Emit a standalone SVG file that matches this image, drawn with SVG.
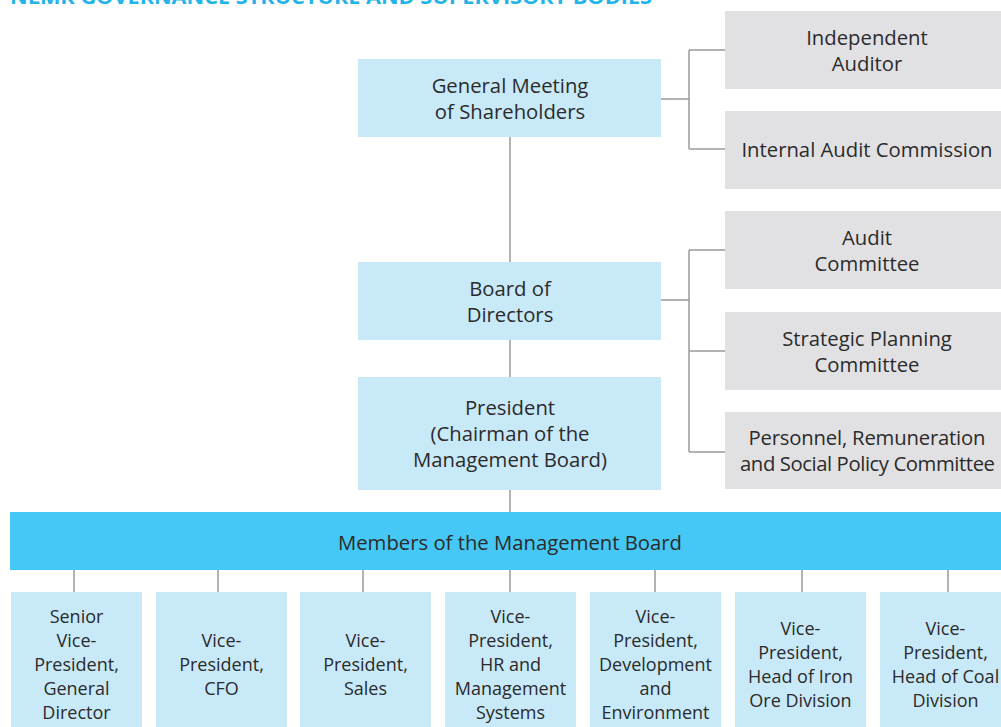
<svg xmlns="http://www.w3.org/2000/svg" width="1001" height="727" viewBox="0 0 1001 727">
<style>
.t{font-family:"Open Sans","Noto Sans","Liberation Sans",sans-serif;font-size:20.3px;fill:#2b2b2b;text-anchor:middle}
.s{font-size:18px}
.blue{fill:#c8e9f8}
.grey{fill:#e1e1e3}
.bar{fill:#45c8f5}
.ln{stroke:#9a9a9a;stroke-width:1.5;fill:none}
.title{font-family:"Open Sans","Liberation Sans",sans-serif;font-weight:bold;font-size:19px;fill:#1fb4ea}
</style>
<rect width="1001" height="727" fill="#fff"/>
<text class="title" x="10" y="3.5" textLength="642" lengthAdjust="spacingAndGlyphs">NLMK GOVERNANCE STRUCTURE AND SUPERVISORY BODIES</text>
<g id="connectors">
<path class="ln" d="M510 137V262M510 340V377M510 490V512"/>
<path class="ln" d="M661 99H689M689 50V149M689 50H725M689 149H725"/>
<path class="ln" d="M661 300H689M689 250V452M689 250H725M689 351H725M689 452H725"/>
<path class="ln" d="M74 570V592M218 570V592M363 570V592M510 570V592M655 570V592M802 570V592M948 570V592"/>
</g>
<g id="gms"><rect class="blue" x="358" y="59" width="303" height="78"/><text class="t" x="510" y="93">General Meeting</text><text class="t" x="510" y="119">of Shareholders</text></g>
<g id="bod"><rect class="blue" x="358" y="262" width="303" height="78"/><text class="t" x="510" y="296">Board of</text><text class="t" x="510" y="322">Directors</text></g>
<g id="president"><rect class="blue" x="358" y="377" width="303" height="113"/><text class="t" x="510" y="415">President</text><text class="t" x="510" y="441">(Chairman of the</text><text class="t" x="510" y="467">Management Board)</text></g>
<g id="auditor"><rect class="grey" x="725" y="11" width="276" height="78"/><text class="t" x="867" y="45">Independent</text><text class="t" x="867" y="71">Auditor</text></g>
<g id="iac"><rect class="grey" x="725" y="111" width="276" height="78"/><text class="t" x="867" y="157">Internal Audit Commission</text></g>
<g id="ac"><rect class="grey" x="725" y="211" width="276" height="78"/><text class="t" x="867" y="245">Audit</text><text class="t" x="867" y="271">Committee</text></g>
<g id="spc"><rect class="grey" x="725" y="312" width="276" height="78"/><text class="t" x="867" y="346">Strategic Planning</text><text class="t" x="867" y="372">Committee</text></g>
<g id="prc"><rect class="grey" x="725" y="412" width="276" height="77"/><text class="t" x="867" y="445" textLength="237">Personnel, Remuneration</text><text class="t" x="867.5" y="471" textLength="255">and Social Policy Committee</text></g>
<g id="members"><rect class="bar" x="10" y="512" width="991" height="58"/><text class="t" x="510" y="550">Members of the Management Board</text></g>
<g id="vp1"><rect class="blue" x="11" y="592" width="131" height="135"/><text class="t s" x="76.5" y="623">Senior</text><text class="t s" x="76.5" y="647">Vice-</text><text class="t s" x="76.5" y="671">President,</text><text class="t s" x="76.5" y="695">General</text><text class="t s" x="76.5" y="719">Director</text></g>
<g id="vp2"><rect class="blue" x="156" y="592" width="131" height="135"/><text class="t s" x="221.5" y="647">Vice-</text><text class="t s" x="221.5" y="671">President,</text><text class="t s" x="221.5" y="695">CFO</text></g>
<g id="vp3"><rect class="blue" x="300" y="592" width="131" height="135"/><text class="t s" x="365.5" y="647">Vice-</text><text class="t s" x="365.5" y="671">President,</text><text class="t s" x="365.5" y="695">Sales</text></g>
<g id="vp4"><rect class="blue" x="445" y="592" width="131" height="135"/><text class="t s" x="510.5" y="623">Vice-</text><text class="t s" x="510.5" y="647">President,</text><text class="t s" x="510.5" y="671">HR and</text><text class="t s" x="510.5" y="695">Management</text><text class="t s" x="510.5" y="719">Systems</text></g>
<g id="vp5"><rect class="blue" x="590" y="592" width="131" height="135"/><text class="t s" x="655.5" y="623">Vice-</text><text class="t s" x="655.5" y="647">President,</text><text class="t s" x="655.5" y="671">Development</text><text class="t s" x="655.5" y="695">and</text><text class="t s" x="655.5" y="719">Environment</text></g>
<g id="vp6"><rect class="blue" x="735" y="592" width="131" height="135"/><text class="t s" x="800.5" y="635">Vice-</text><text class="t s" x="800.5" y="659">President,</text><text class="t s" x="800.5" y="683">Head of Iron</text><text class="t s" x="800.5" y="707">Ore Division</text></g>
<g id="vp7"><rect class="blue" x="880" y="592" width="131" height="135"/><text class="t s" x="945.5" y="635">Vice-</text><text class="t s" x="945.5" y="659">President,</text><text class="t s" x="945.5" y="683">Head of Coal</text><text class="t s" x="945.5" y="707">Division</text></g>
</svg>
